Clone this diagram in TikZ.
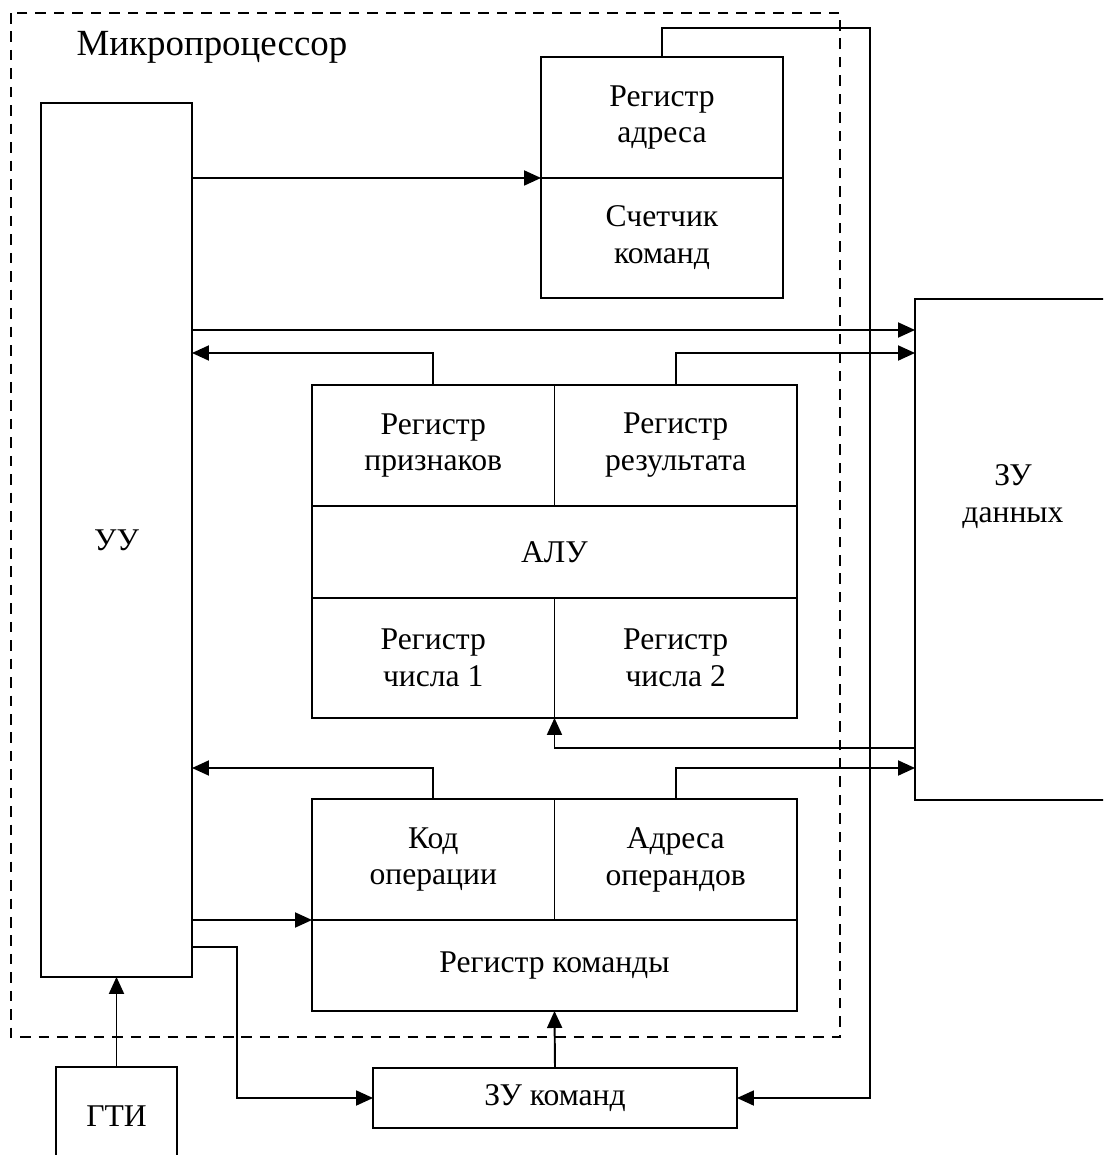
\documentclass[tikz,border=0pt]{standalone}
\usepackage{fontspec}
\setmainfont{Liberation Serif}
\usetikzlibrary{arrows.meta,positioning,calc}

\newcommand{\lbl}{\fontsize{18}{21}\selectfont}

\begin{document}
\begin{tikzpicture}[x=0.02cm, y=-0.02cm,
    box/.style={rectangle, draw, line width=1.1pt, inner sep=0pt, outer sep=0pt, align=center, font=\lbl},
    arrow/.style={-{Triangle[length=0.34cm, width=0.3cm]}, line width=1.1pt},
    frame/.style={draw, line width=1.1pt, dash pattern=on 6pt off 4.5pt}
]
    \clip (0,0) rectangle (1103,1155);

    % Microprocessor frame
    \draw[frame] (11,13) rectangle (840,1037);
    \node[font=\fontsize{21}{25}\selectfont] (mptitle) at (212,47) {Микропроцессор};

    % Control unit and clock
    \node[box, minimum width=3.02cm, minimum height=17.48cm] (uu) at (116.5,540) {УУ};
    \node[box, minimum width=2.42cm, minimum height=1.96cm] (gti) at (116.5,1116) {ГТИ};

    % Address register / program counter
    \node[box, minimum width=4.84cm, minimum height=2.42cm] (ra) at (662,117.5) {Регистр\\адреса};
    \node[box, minimum width=4.84cm, minimum height=2.4cm, below=0pt of ra] (sk) {Счетчик\\команд};

    % ALU block
    \node[box, minimum width=4.85cm, minimum height=2.42cm] (rp) at (433.25,445.5) {Регистр\\признаков};
    \node[box, minimum width=4.85cm, minimum height=2.42cm, right=0pt of rp] (rr) {Регистр\\результата};
    \node[box, minimum width=9.7cm, minimum height=1.84cm, below=0pt of rp.south east] (alu) {АЛУ};
    \node[box, minimum width=4.85cm, minimum height=2.4cm, anchor=north west] (rc1) at (alu.south west) {Регистр\\числа 1};
    \node[box, minimum width=4.85cm, minimum height=2.4cm, right=0pt of rc1] (rc2) {Регистр\\числа 2};

    % Instruction register
    \node[box, minimum width=4.85cm, minimum height=2.42cm] (kop) at (433.25,859.5) {Код\\операции};
    \node[box, minimum width=4.85cm, minimum height=2.42cm, right=0pt of kop] (ao) {Адреса\\операндов};
    \node[box, minimum width=9.7cm, minimum height=1.82cm, below=0pt of kop.south east] (rk) {Регистр команды};

    % Memories
    \node[box, minimum width=7.28cm, minimum height=1.2cm] (zuk) at (555,1098) {ЗУ команд};
    \node[box, minimum width=4.1cm, minimum height=10.02cm] (zud) at (1017.5,549.5) {};
    \node[font=\lbl, align=center] (zudtext) at (1013,497) {ЗУ\\данных};

    % Levels of the buses
    \coordinate (bus) at (870,28);
    \coordinate (lvl1) at (0,330);
    \coordinate (lvl2) at (0,353);
    \coordinate (lvl3) at (0,748);
    \coordinate (lvl4) at (0,768);
    \coordinate (drop) at (237,947);

    % Arrows
    \draw[arrow] (uu.east |- sk.north) -- (sk.north west);
    \draw[arrow] (ra.north) |- (bus) |- (zuk.east);
    \draw[arrow] (uu.east |- lvl1) -- (zud.west |- lvl1);
    \draw[arrow] (rp.north) |- (uu.east |- lvl2);
    \draw[arrow] (rr.north) |- (zud.west |- lvl2);
    \draw[arrow] (zud.west |- lvl3) -| (rc1.south east);
    \draw[arrow] (kop.north) |- (uu.east |- lvl4);
    \draw[arrow] (ao.north) |- (zud.west |- lvl4);
    \draw[arrow] (uu.east |- rk.north west) -- (rk.north west);
    \draw[arrow] (uu.east |- drop) -- (drop) |- (zuk.west);
    \draw[arrow] (zuk.north) -- (rk.south);
    \draw[arrow] (gti.north) -- (uu.south);

\end{tikzpicture}
\end{document}
